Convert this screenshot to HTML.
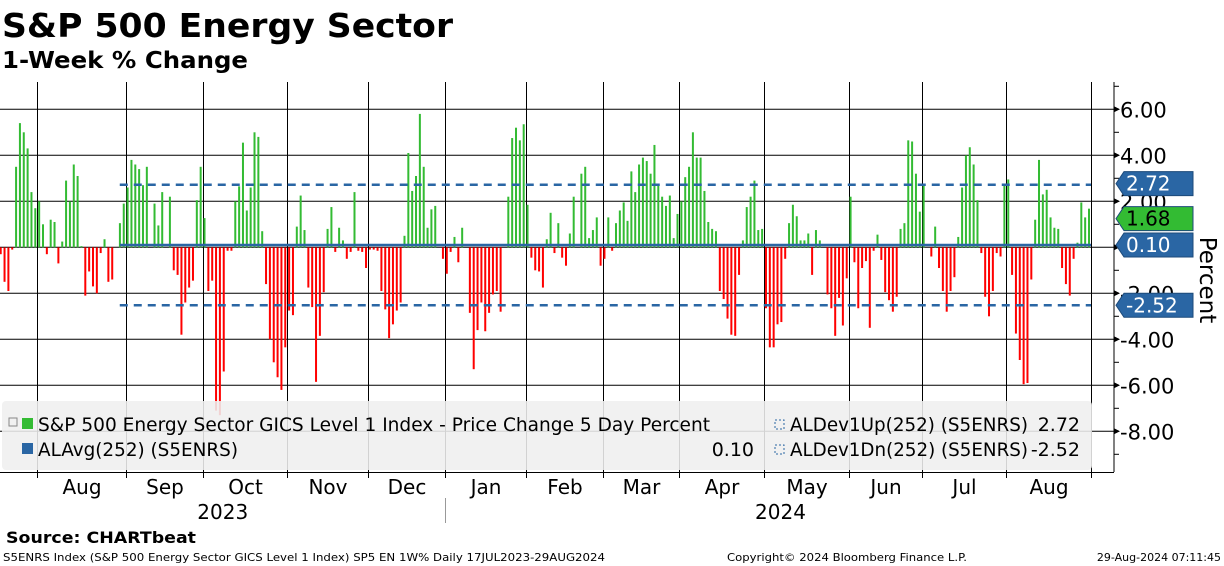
<!DOCTYPE html>
<html><head><meta charset="utf-8"><style>
html,body{margin:0;padding:0;background:#fff;}
svg{display:block;font-family:"DejaVu Sans","Liberation Sans",sans-serif;}
</style></head><body>
<svg id="chart" width="1224" height="566" viewBox="0 0 1224 566" xmlns="http://www.w3.org/2000/svg">
<text x="2" y="37" font-size="33" font-weight="bold" textLength="451" lengthAdjust="spacingAndGlyphs">S&amp;P 500 Energy Sector</text>
<text x="2" y="68" font-size="23" font-weight="bold" textLength="246" lengthAdjust="spacingAndGlyphs">1-Week % Change</text>
<g id="grid"></g>
<g id="bars"></g>
<g id="refs"></g>
<g id="legend">
<rect x="2" y="401" width="1090" height="69" rx="4" fill="#efefef" fill-opacity="0.88"/>
<rect x="22" y="418" width="11" height="11" fill="#33bb33"/>
<rect x="9" y="418" width="8" height="8" fill="none" stroke="#888" stroke-width="1"/>
<text x="38" y="431" font-size="19" textLength="672" lengthAdjust="spacingAndGlyphs">S&amp;P 500 Energy Sector GICS Level 1 Index - Price Change 5 Day Percent</text>
<rect x="22" y="443" width="11" height="11" fill="#2a66a4"/>
<text x="38" y="456" font-size="19" textLength="200" lengthAdjust="spacingAndGlyphs">ALAvg(252) (S5ENRS)</text>
<text x="754" y="456" font-size="19" text-anchor="end">0.10</text>
<rect x="775" y="420" width="9" height="9" fill="none" stroke="#2a66a4" stroke-dasharray="2,2"/>
<text x="790" y="431" font-size="19" textLength="238" lengthAdjust="spacingAndGlyphs">ALDev1Up(252) (S5ENRS)</text>
<text x="1080" y="431" font-size="19" text-anchor="end">2.72</text>
<rect x="775" y="445" width="9" height="9" fill="none" stroke="#2a66a4" stroke-dasharray="2,2"/>
<text x="790" y="456" font-size="19" textLength="238" lengthAdjust="spacingAndGlyphs">ALDev1Dn(252) (S5ENRS)</text>
<text x="1080" y="456" font-size="19" text-anchor="end">-2.52</text>
</g>
<g id="yaxis"></g>
<g id="xaxis"></g>
<g id="tags"></g>
<text transform="translate(1200,280) rotate(90)" font-size="23" text-anchor="middle">Percent</text>
<text x="6" y="543" font-size="16" font-weight="bold" textLength="190" lengthAdjust="spacingAndGlyphs">Source:  CHARTbeat</text>
<text x="3" y="561" font-size="11" textLength="602" lengthAdjust="spacingAndGlyphs">S5ENRS Index (S&amp;P 500 Energy Sector GICS Level 1 Index) SP5 EN 1W% Daily 17JUL2023-29AUG2024</text>
<text x="727" y="561" font-size="11" textLength="240" lengthAdjust="spacingAndGlyphs">Copyright© 2024 Bloomberg Finance L.P.</text>
<text x="1221" y="561" font-size="11" text-anchor="end">29-Aug-2024 07:11:45</text>
</svg>
<script>
const weeklyChange = [
-0.3,-1.5,-1.9,-0.1,3.5,5.4,5.0,4.3,2.4,1.7,2.0,1.0,-0.3,1.2,1.1,-0.7,0.25,2.9,2.0,3.6,3.1,0.05,-2.1,-1.05,-1.7,-2.0,-0.25,0.35,-1.5,-1.4,0,1.05,1.9,2.6,3.8,3.6,3.4,2.7,3.5,0,1.9,0.95,2.4,0,2.2,-1.0,-1.2,-3.8,-2.4,-1.75,
-1.45,2.05,3.5,1.27,-1.9,-1.45,-7.1,-7.3,-5.4,-0.15,-0.15,2.0,2.65,4.55,1.6,2.6,5.0,4.8,0.7,-1.6,-4.0,-5.0,-5.65,-6.2,-4.35,-2.75,-2.95,0.9,2.25,0.75,-1.75,-2.6,-5.85,-3.85,-1.95,0.8,1.75,-0.2,0.85,0.3,-0.5,-0.2,2.4,-0.15,-0.2,-0.9,-0.1,-0.1,
-0.15,-1.9,-2.7,-3.95,-3.35,-2.75,-2.4,0.5,4.1,2.45,3.1,5.8,3.5,0.85,1.65,1.8,0,-0.5,-1.15,-0.2,0.45,-0.65,0.85,0,-2.85,-5.3,-3.6,-2.4,-3.65,-2.85,-2.05,-1.9,-2.8,0,2.2,4.75,5.2,4.65,5.35,1.85,-0.45,-1.0,-1.05,-1.75,0.35,1.5,-0.25,1.05,
-0.45,-0.8,0.6,2.2,0,3.2,3.5,0.4,0.75,1.3,-0.8,-0.5,1.3,-0.15,1.05,1.6,1.95,1.15,3.3,2.4,3.6,3.9,3.75,3.2,4.45,2.7,2.2,1.8,2.25,0.4,1.45,2.0,3.05,3.5,5.0,3.9,3.9,2.45,1.1,0.8,0.7,-1.9,-2.25,-3.1,-3.8,-3.85,-1.2,0.3,
1.75,2.2,2.9,0.75,0.8,-2.65,-4.35,-4.35,-3.35,-3.25,-0.5,1.05,1.85,1.35,0.3,0.3,0.6,-1.2,0.75,0.3,0,-2.05,-2.65,-3.85,-2.2,-3.4,-1.35,2.2,-0.65,-2.65,-0.9,-0.6,-3.5,-0.15,0.55,-0.55,-1.95,-2.3,-2.8,-2.15,0.8,1.05,4.65,4.6,3.2,1.55,2.7,
0,-0.4,0.9,-0.9,-1.9,-2.8,-1.9,-1.3,0.45,2.6,4.0,4.35,3.6,2.05,-0.25,-2.15,-3.0,-1.9,-0.25,-0.4,2.75,2.95,-1.2,-3.75,-4.9,-5.95,-5.9,-1.4,1.2,3.8,2.3,2.5,1.3,0.85,0.8,-0.9,-1.6,-2.1,-0.5,0.2,1.95,1.3,1.68
];
const avgValue = 0.10;
const devUpValue = 2.72;
const devDnValue = -2.52;
const lastValue = 1.68;
const refStartIdx = 32;
const yTicks = [6,4,2,0,-2,-4,-6,-8];
const yTickLabels = ["6.00","4.00","2.00","","-2.00","-4.00","-6.00","-8.00"];
const monthStartIdx = [10,33,53,75,96,116,137,157,177,199,221,240,262,284];
const monthLabels = ["Aug","Sep","Oct","Nov","Dec","Jan","Feb","Mar","Apr","May","Jun","Jul","Aug"];
const yearLabels = ["2023","2024"];
const yearBoundaryIdx = 116;

const NS = "http://www.w3.org/2000/svg";
const X0 = 0.7, X1 = 1089, Y0 = 247.3, YS = 23.0, PT = 82, PB = 472, AX = 1114;
const n = weeklyChange.length;
const step = (X1 - X0) / (n - 1);
function xScale(i){ return X0 + i * step; }
function yScale(v){ return Y0 - v * YS; }
function mk(tag, attrs, parent){ const e = document.createElementNS(NS, tag); for (const k in attrs) e.setAttribute(k, attrs[k]); parent.appendChild(e); return e; }

const grid = document.getElementById('grid');
yTicks.forEach(t => {
  const l = mk('line', {x1:0, x2:AX, y1:yScale(t), y2:yScale(t), stroke:'#000', 'stroke-width':1}, grid);
  
  
});
monthStartIdx.forEach(i => {
  const x = Math.round(xScale(i) - step / 2) + 0.5;
  const l = mk('line', {x1:x, x2:x, y1:PT, y2:PB, stroke:'#000', 'stroke-width':1}, grid);
  
  
});

const bars = document.getElementById('bars');
weeklyChange.forEach((v, i) => {
  if (v === 0) return;
  const y = Math.min(yScale(v), Y0), h = Math.abs(yScale(v) - Y0);
  const r = mk('rect', {x:xScale(i) - 1, y:y, width:2, height:h, fill: v > 0 ? '#33bb33' : '#ff0000'}, bars);
  
  
});

const refs = document.getElementById('refs');
const rx1 = xScale(refStartIdx) - 4, rx2 = xScale(n - 1) + 2;
[[devUpValue,'8,6','ref-dev-up-line'],[avgValue,'','ref-avg-line'],[devDnValue,'8,6','ref-dev-down-line']].forEach(d => {
  const a = {x1:rx1, x2:rx2, y1:yScale(d[0]), y2:yScale(d[0]), stroke:'#2a66a4', 'stroke-width':2.5};
  if (d[1]) a['stroke-dasharray'] = d[1];
  const l = mk('line', a, refs);
  
  
});

const yaxis = document.getElementById('yaxis');
mk('line', {x1:AX, x2:AX, y1:PT, y2:PB, stroke:'#000', 'stroke-width':1}, yaxis);
for (let t = 7; t >= -9; t--) {
  mk('line', {x1:AX, x2:AX + 5, y1:yScale(t), y2:yScale(t), stroke:'#000', 'stroke-width':1}, yaxis);
}
yTicks.forEach((t, k) => {
  mk('path', {d:`M${AX} ${yScale(t)-3}L${AX+6} ${yScale(t)}L${AX} ${yScale(t)+3}Z`, fill:'#000'}, yaxis);
  if (!yTickLabels[k]) return;
  const tx = mk('text', {x:1120, y:yScale(t) + 8, 'font-size':21}, yaxis);
  tx.textContent = yTickLabels[k];
  
  
});

const xaxis = document.getElementById('xaxis');
mk('line', {x1:0, x2:AX, y1:PB + 0.5, y2:PB + 0.5, stroke:'#000', 'stroke-width':1}, xaxis);
const bx = monthStartIdx.map(i => Math.round(xScale(i) - step / 2) + 0.5);
bx.forEach(x => mk('line', {x1:x, x2:x, y1:PB, y2:PB + 6, stroke:'#000'}, xaxis));
monthLabels.forEach((m, k) => {
  const t = mk('text', {x:(bx[k] + bx[k+1]) / 2, y:494, 'font-size':20, 'text-anchor':'middle'}, xaxis);
  t.textContent = m;
  
  
});
const yb = Math.round(xScale(yearBoundaryIdx) - step / 2) + 0.5;
mk('line', {x1:yb, x2:yb, y1:498, y2:523, stroke:'#999'}, xaxis);
[[0, yb],[yb, bx[bx.length-1]]].forEach((r, k) => {
  const t = mk('text', {x:(r[0] + r[1]) / 2 + (k === 0 ? 0 : 12), y:519, 'font-size':20, 'text-anchor':'middle'}, xaxis);
  t.textContent = yearLabels[k];
  
  
});

const tags = document.getElementById('tags');
function tag(v, yc, fill, color, name) {
  const g = mk('g', {}, tags);
  
  
  mk('path', {d:`M1116 ${yc}L1124 ${yc-12}H1193V${yc+12}H1124Z`, fill:fill, stroke:'#1c4a7a', 'stroke-width':1}, g);
  const t = mk('text', {x:1126, y:yc + 7, 'font-size':20, fill:color}, g);
  t.textContent = v.toFixed(2);
}
tag(devUpValue, Math.min(yScale(devUpValue), yScale(lastValue) - 25), '#2a66a4', '#fff', 'tag-dev-up');
tag(lastValue, yScale(lastValue) + 10, '#33bb33', '#000', 'tag-last-value');
tag(avgValue, yScale(avgValue), '#2a66a4', '#fff', 'tag-average');
tag(devDnValue, yScale(devDnValue), '#2a66a4', '#fff', 'tag-dev-down');
</script>
</body></html>
